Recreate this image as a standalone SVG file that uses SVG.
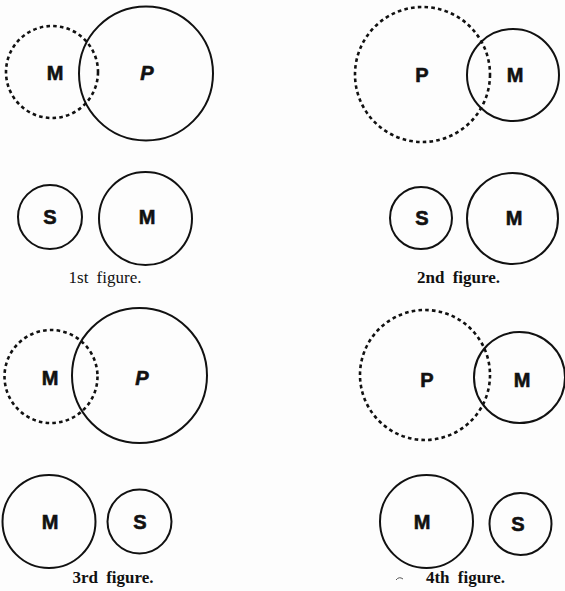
<svg xmlns="http://www.w3.org/2000/svg" width="565" height="591" viewBox="0 0 565 591">
<style>
.bg{fill:#fdfdfd}
.solid{fill:none;stroke:#111;stroke-width:2}
.dash{fill:none;stroke:#111;stroke-width:2.6;stroke-dasharray:3.6 3.2;stroke-linecap:butt}
.lbl{font-family:"Liberation Sans",Arial,sans-serif;font-weight:bold;font-size:20px;fill:#111;text-anchor:middle;stroke:#111;stroke-width:0.6}
.it{font-style:italic}
.cap{font-family:"Liberation Serif","Times New Roman",serif;font-size:17px;fill:#111;text-anchor:middle;word-spacing:4px}
.b{font-weight:bold}
</style>
<rect class="bg" x="0" y="0" width="565" height="591"/>
<g id="fig1">
  <g id="fig1-M"><circle class="dash" cx="52" cy="72" r="46"/><text class="lbl" x="55" y="80">M</text></g>
  <g id="fig1-P"><circle class="solid" cx="146" cy="73.5" r="67"/><text class="lbl it" x="147" y="80">P</text></g>
  <g id="fig1-S2"><circle class="solid" cx="50" cy="217" r="32"/><text class="lbl" x="50" y="224">S</text></g>
  <g id="fig1-M2"><circle class="solid" cx="145.5" cy="218.5" r="46.5"/><text class="lbl" x="147" y="224">M</text></g>
  <text class="cap" x="105" y="283">1st figure.</text>
</g>
<g id="fig2">
  <g id="fig2-P"><circle class="dash" cx="422.5" cy="74.5" r="67.5"/><text class="lbl" x="422" y="82">P</text></g>
  <g id="fig2-M"><circle class="solid" cx="513" cy="75" r="46"/><text class="lbl" x="515" y="82">M</text></g>
  <g id="fig2-S2"><circle class="solid" cx="421" cy="218" r="31"/><text class="lbl" x="422" y="225">S</text></g>
  <g id="fig2-M2"><circle class="solid" cx="512.5" cy="218.5" r="45.5"/><text class="lbl" x="514" y="225">M</text></g>
  <text class="cap b" x="458.5" y="283">2nd figure.</text>
</g>
<g id="fig3">
  <g id="fig3-M"><circle class="dash" cx="51" cy="376.5" r="46.5"/><text class="lbl" x="50" y="385">M</text></g>
  <g id="fig3-P"><circle class="solid" cx="139.5" cy="375.5" r="67.5"/><text class="lbl it" x="142" y="385">P</text></g>
  <g id="fig3-M2"><circle class="solid" cx="49" cy="521.5" r="46.5"/><text class="lbl" x="50" y="529">M</text></g>
  <g id="fig3-S2"><circle class="solid" cx="139.5" cy="521.5" r="32"/><text class="lbl" x="140" y="529">S</text></g>
  <text class="cap b" x="113" y="583">3rd figure.</text>
</g>
<g id="fig4">
  <g id="fig4-P"><circle class="dash" cx="425" cy="375" r="65"/><text class="lbl" x="427" y="387">P</text></g>
  <g id="fig4-M"><circle class="solid" cx="519.5" cy="377.5" r="45.5"/><text class="lbl" x="522" y="387">M</text></g>
  <g id="fig4-M2"><circle class="solid" cx="426.5" cy="521.5" r="46.5"/><text class="lbl" x="422" y="529">M</text></g>
  <g id="fig4-S2"><circle class="solid" cx="520.5" cy="524" r="31"/><text class="lbl" x="518" y="531">S</text></g>
  <text class="cap b" x="465.5" y="583">4th figure.</text>
  <path d="M396 580 Q399 576 403 579" fill="none" stroke="#555" stroke-width="1"/>
</g>
<g id="connectors"></g>
</svg>
